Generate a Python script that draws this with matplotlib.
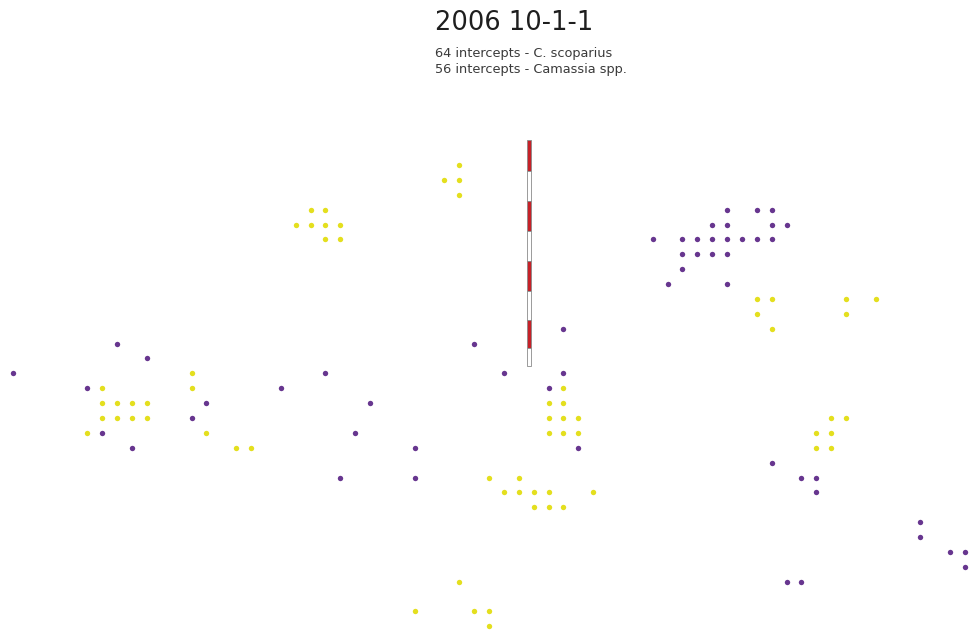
import matplotlib
matplotlib.use("Agg")
import matplotlib.pyplot as plt
from matplotlib.patches import Rectangle

# grid intercepts (column, row)
scoparius_col = [30, 29, 30, 30, 20, 21, 19, 20, 21, 22, 21, 22,
                 50, 51, 56, 58, 50, 56, 51,
                 12, 6, 12, 6, 7, 8, 9, 6, 7, 8, 9, 5, 13, 15, 16,
                 37, 36, 37, 36, 37, 38, 36, 37, 38,
                 55, 56, 54, 55, 54, 55,
                 32, 34, 33, 34, 35, 36, 39, 35, 36, 37,
                 30, 27, 31, 32, 32]
scoparius_row = [0, 1, 1, 2, 3, 3, 4, 4, 4, 4, 5, 5,
                 9, 9, 9, 9, 10, 10, 11,
                 14, 15, 15, 16, 16, 16, 16, 17, 17, 17, 17, 18, 18, 19, 19,
                 15, 16, 16, 17, 17, 17, 18, 18, 18,
                 17, 17, 18, 18, 19, 19,
                 21, 21, 22, 22, 22, 22, 22, 23, 23, 23,
                 28, 30, 30, 30, 31]

camassia_col = [48, 50, 51, 47, 48, 51, 52, 43, 45, 46, 47, 48, 49, 50, 51,
                45, 46, 47, 48, 45, 44, 48,
                37, 31, 7, 9, 0, 21, 33, 37, 5, 18, 36, 13, 24, 12, 6, 23,
                8, 27, 38, 51, 22, 27, 53, 54, 54, 61, 61, 63, 64, 64, 52, 53]
camassia_row = [3, 3, 3, 4, 4, 4, 4, 5, 5, 5, 5, 5, 5, 5, 5,
                6, 6, 6, 6, 7, 8, 8,
                11, 12, 12, 13, 14, 14, 14, 14, 15, 15, 15, 16, 16, 17, 18, 18,
                19, 19, 19, 20, 21, 21, 21, 21, 22, 24, 25, 26, 26, 27, 28, 28]

# measuring pole, in grid units
pole_col = 34.69
pole_top = -1.68
pole_segments = [2.08, 2.02, 2.02, 2.02, 2.02, 1.95, 1.88, 1.21]

fig = plt.figure(figsize=(9.75, 6.33), dpi=100)
ax = fig.add_axes([0, 0, 1, 1])
ax.set_xlim(-0.874, 64.67)
ax.set_ylim(31.45, -11.09)
ax.axis('off')

ax.scatter(scoparius_col, scoparius_row, s=15, color='#e4df1e', linewidths=0, zorder=3)
ax.scatter(camassia_col, camassia_row, s=15, color='#67368f', linewidths=0, zorder=3)

y = pole_top
for i, seg in enumerate(pole_segments):
    fc = '#c62128' if i % 2 == 0 else 'white'
    ax.add_patch(Rectangle((pole_col - 0.14, y), 0.28, seg, facecolor=fc,
                           edgecolor='#8a8a8a', linewidth=0.6, zorder=2))
    y += seg

fig.text(435 / 975, 1 - 23 / 633, '2006 10-1-1', fontsize=18.5, color='#1e1e1e',
         ha='left', va='center')
fig.text(435 / 975, 1 - 53 / 633, '64 intercepts - C. scoparius', fontsize=9.3,
         color='#3a3a3a', ha='left', va='center')
fig.text(435 / 975, 1 - 70 / 633, '56 intercepts - Camassia spp.', fontsize=9.3,
         color='#3a3a3a', ha='left', va='center')

fig.savefig('out.png', dpi=100)
